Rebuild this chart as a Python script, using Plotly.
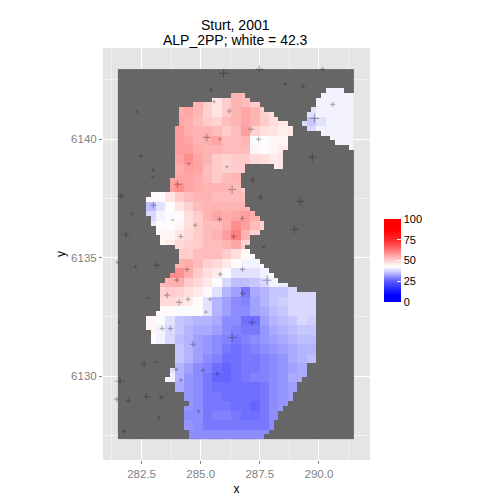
import numpy as np
import plotly.graph_objects as go

# ---- grid (coordinates of the tile raster) ----
x_start, y_top, cell = 281.5, 6142.95, 0.2
n_cols, n_rows = 50, 78

# ---- values, read per 2x2 tile block, from column block 3 to 24; top row first, row block 2 onward ----
_ = 0
val_rows = [
 [_,_,_,_,_,_,_,_,_,54,53,_,_,_,_,_,_,_,41,41,41,41],
 [_,_,_,_,_,54,51,47,51,54,53,51,_,_,_,_,_,41,41,41,41,41],
 [_,_,_,55,56,54,50,47,51,54,56,54,50,48,_,_,_,39,41,41,41,41],
 [_,_,_,56,55,53,51,50,53,54,56,54,51,48,46,_,38,36,39,41,41,41],
 [_,_,_,57,55,54,54,53,51,53,57,50,48,47,45,46,38,38,41,41,41,41],
 [_,_,_,57,56,54,55,56,53,53,54,42,42,44,44,_,_,_,_,41,41,41],
 [_,_,_,57,57,55,54,54,53,53,53,44,43,44,46,_,_,_,_,_,_,41],
 [_,_,_,56,59,56,54,51,50,51,51,49,48,46,47,_,_,_,_,_,_,_],
 [_,_,_,55,57,56,53,51,50,51,51,_,_,45,47,_,_,_,_,_,_,_],
 [_,_,56,56,56,55,53,51,53,54,_,_,_,_,_,_,_,_,_,_,_,_],
 [_,_,57,59,56,55,54,54,54,53,51,_,_,_,_,_,_,_,_,_,_,_],
 [43,43,47,51,53,54,54,53,53,53,53,_,_,_,_,_,_,_,_,_,_,_],
 [35,39,43,47,50,53,54,54,54,54,54,_,_,_,_,_,_,_,_,_,_,_],
 [38,41,42,43,48,51,54,56,55,56,57,55,_,_,_,_,_,_,_,_,_,_],
 [40,42,43,44,48,51,53,53,55,59,57,53,50,_,_,_,_,_,_,_,_,_],
 [_,44,44,47,49,51,53,54,57,61,54,50,_,_,_,_,_,_,_,_,_,_],
 [_,44,46,49,50,51,53,53,54,56,50,_,_,_,_,_,_,_,_,_,_,_],
 [_,_,_,51,51,53,53,53,51,48,43,42,_,_,_,_,_,_,_,_,_,_],
 [_,_,_,54,55,53,50,49,46,43,41,41,42,_,_,_,_,_,_,_,_,_],
 [_,_,59,59,55,51,48,46,42,39,39,39,41,42,_,_,_,_,_,_,_,_],
 [_,53,54,55,51,49,46,42,38,35,35,36,38,41,40,_,_,_,_,_,_,_],
 [_,50,51,50,48,46,43,39,34,32,28,33,34,36,36,38,38,38,_,_,_,_],
 [_,49,49,48,46,43,39,34,32,30,29,32,34,36,37,38,38,38,_,_,_,_],
 [_,43,43,42,42,42,39,34,32,30,30,32,33,35,36,38,38,38,_,_,_,_],
 [44,42,39,36,35,34,34,33,30,30,27,27,32,34,35,36,38,37,_,_,_,_],
 [44,41,38,36,34,33,33,32,30,29,28,28,31,33,34,35,36,36,_,_,_,_],
 [43,41,38,35,34,32,31,30,29,28,29,30,31,32,33,34,35,35,_,_,_,_],
 [_,_,_,36,34,32,31,30,28,27,28,29,30,31,32,33,34,34,_,_,_,_],
 [_,_,_,36,34,32,30,29,27,27,28,28,29,30,31,33,34,35,_,_,_,_],
 [_,_,39,34,32,30,29,27,26,27,28,28,29,30,31,32,33,_,_,_,_,_],
 [_,_,41,34,31,30,28,26,26,27,28,29,29,30,31,33,33,_,_,_,_,_],
 [_,_,_,33,31,30,28,27,27,27,27,27,28,30,31,32,_,_,_,_,_,_],
 [_,_,_,_,31,30,28,28,27,27,27,27,28,30,31,32,_,_,_,_,_,_],
 [_,_,_,_,31,30,28,28,28,27,27,26,28,30,31,_,_,_,_,_,_,_],
 [_,_,_,_,30,30,28,29,29,28,27,27,28,30,_,_,_,_,_,_,_,_],
 [_,_,_,_,31,30,28,28,28,28,28,28,28,30,_,_,_,_,_,_,_,_],
 [_,_,_,_,30,30,30,30,30,30,30,30,30,_,_,_,_,_,_,_,_,_],
]

# ---- extent of the main region, per tile row from row 5 down ----
body_from = [24,20,16,13,13,13,13,12,12,12,12,12,12,12,12,12,12,12,11,11,11,7,6,6,6,6,7,7,8,8,9,9,12,13,13,13,12,12,11,10,9,9,9,9,9,9,8,6,6,6,7,7,7,7,12,12,12,12,11,11,10,11,12,13,14,15,14,14,14,14,14,15,15]
body_to   = [27,28,30,31,33,34,36,37,37,36,36,36,35,35,35,27,27,26,26,26,27,27,27,27,28,29,30,31,31,30,28,28,27,28,29,30,31,32,33,34,36,38,42,42,42,42,42,42,42,42,42,42,42,42,42,42,42,41,40,40,39,39,38,37,37,36,35,35,34,33,33,32,31]

# ---- detached patches: row, from, to ----
patch_row  = [20,4,5,6,7,8,9,10,11,12,13,14,15,16]
patch_from = [33,44,43,42,42,41,40,40,39,40,43,45,46,49]
patch_to   = [35,48,50,50,50,50,50,50,50,50,50,50,50,50]

# ---- points ----
pt_x = [285.97,285.45,282.30,285.57,286.21,285.26,285.80,282.47,282.99,282.96,284.50,286.11,284.02,286.33,287.48,290.16,288.58,289.33,290.58,289.81,287.13,287.45,289.72,287.19,281.63,283.00,282.11,283.82,284.77,285.80,286.76,284.16,286.39,281.86,283.14,282.25,281.47,284.42,285.83,283.99,283.58,284.09,284.46,285.40,282.76,287.53,289.22,288.96,287.66,286.77,287.81,286.77,281.56,283.37,283.72,285.22,284.67,286.33,282.61,283.10,283.96,285.09,285.70,284.17,281.59,281.45,281.94,282.70,283.34,284.91,283.23,281.77,287.18]
pt_y = [6142.77,6142.07,6141.15,6141.57,6141.18,6140.07,6140.00,6139.27,6138.69,6138.40,6138.96,6138.83,6138.09,6137.87,6142.94,6142.94,6142.32,6142.22,6141.46,6140.87,6140.41,6139.99,6139.23,6138.26,6137.59,6137.20,6136.84,6136.58,6136.36,6136.61,6136.65,6135.89,6135.89,6135.98,6134.67,6134.61,6134.80,6134.50,6134.29,6134.05,6133.41,6133.11,6133.24,6133.24,6133.29,6137.54,6137.37,6136.19,6135.43,6134.50,6134.04,6133.49,6132.28,6132.01,6132.01,6132.70,6131.34,6131.63,6130.49,6130.59,6130.28,6130.24,6130.11,6129.82,6129.78,6129.02,6128.97,6129.14,6129.10,6128.52,6128.24,6127.67,6132.27]
pt_size = [9,4,3,3,5,7,3,4,4,3,3,3,7,8,8,5,4,4,5,9,6,5,9,5,6,6,3,2,4,5,5,5,5,6,7,3,3,5,4,5,6,6,5,4,2,5,8,8,3,5,9,6,3,5,5,3,6,9,6,2,4,4,5,4,9,5,5,6,5,3,3,5,7]

legend_ticks = [0, 25, 50, 75, 100]
title_lines = ["Sturt, 2001", "ALP_2PP; white = 42.3"]

# ---- build raster ----
coarse = np.array(val_rows, dtype=float)
z = np.full((n_rows, n_cols), np.nan)
for k, row in enumerate(coarse):
    for j, v in enumerate(row):
        r, c = (k + 2) * 2, (j + 3) * 2
        z[r:r + 2, c:c + 2] = v
mask = np.zeros((n_rows, n_cols), dtype=bool)
for i, (a, b) in enumerate(zip(body_from, body_to)):
    mask[5 + i, a:b] = True
for r, a, b in zip(patch_row, patch_from, patch_to):
    mask[r, a:b] = True
z[~mask] = np.nan
z[z == 0] = np.nan

xs = x_start + cell * (np.arange(n_cols) + 0.5)
ys = y_top - cell * (np.arange(n_rows) + 0.5)

fig = go.Figure()
fig.add_trace(go.Heatmap(x=xs, y=ys, z=np.zeros((n_rows, n_cols)), showscale=False,
                         colorscale=[[0, "#666666"], [1, "#666666"]], hoverinfo="skip"))
cb_x, cb_y, cb_w, cb_h = 384/500, (500-302)/500, 17, 83
fig.add_trace(go.Heatmap(
    x=xs, y=ys, z=z, zmin=0, zmax=100,
    colorscale=[[0, "#0000ff"], [0.08, "#0000ff"], [0.25, "#5a5aff"], [0.35, "#bebeff"], [0.423, "#ffffff"],
                [0.50, "#ffd2d2"], [0.62, "#ff7878"], [0.75, "#ff2828"], [0.87, "#ff0000"], [1, "#ff0000"]],
    colorbar=dict(x=cb_x, xanchor="left", y=cb_y, yanchor="bottom", len=cb_h/500, lenmode="fraction",
                  thickness=cb_w, thicknessmode="pixels", xpad=0, ypad=0, outlinewidth=0,
                  tickvals=legend_ticks, ticks="inside", ticklen=3.5, tickcolor="white", tickwidth=1,
                  tickfont=dict(family="Liberation Sans", size=11, color="black")),
))
fig.add_trace(go.Scatter(x=pt_x, y=pt_y, mode="markers", showlegend=False,
    marker=dict(symbol="cross-thin", size=[s * 0.72 for s in pt_size], color="rgba(0,0,0,0)",
                line=dict(color="rgba(30,30,30,0.5)", width=1.1))))

# left-hand legend ticks
shapes = []
for t in legend_ticks:
    yy = cb_y + (t / 100) * cb_h / 500
    shapes.append(dict(type="line", xref="paper", yref="paper", x0=cb_x, x1=cb_x + 3.5/500, y0=yy, y1=yy,
                       line=dict(color="white", width=1)))

axis_common = dict(showline=False, zeroline=False, showgrid=True, gridcolor="white", gridwidth=1.1,
                   ticks="outside", ticklen=3, tickwidth=1, tickcolor="#7f7f7f",
                   tickfont=dict(family="Liberation Sans", size=11.5, color="#7f7f7f"))
fig.update_layout(
    width=500, height=500, margin=dict(l=0, r=0, t=0, b=0), autosize=False,
    paper_bgcolor="white", plot_bgcolor="#e5e5e5", showlegend=False, shapes=shapes,
    xaxis=dict(domain=[103/500, 370/500], range=[280.87, 292.16], tick0=282.5, dtick=2.5, tickformat=".1f",
               minor=dict(dtick=1.25, tick0=282.5, showgrid=True, gridcolor="#f2f2f2", gridwidth=0.6, ticks=""),
               title=dict(text="x", font=dict(family="Liberation Sans", size=12, color="black"), standoff=5),
               **axis_common),
    yaxis=dict(domain=[40/500, 452/500], range=[6126.46, 6143.84], tick0=6130, dtick=5, tickformat="d",
               minor=dict(dtick=2.5, tick0=6130, showgrid=True, gridcolor="#f2f2f2", gridwidth=0.6, ticks=""),
               title=dict(text="y", font=dict(family="Liberation Sans", size=12, color="black"), standoff=2),
               **axis_common),
    annotations=[
        dict(text=title_lines[0], x=235.5/500, y=1-25/500, xref="paper", yref="paper", showarrow=False,
             xanchor="center", yanchor="middle", font=dict(family="Liberation Sans", size=14, color="black")),
        dict(text=title_lines[1], x=235.5/500, y=1-40/500, xref="paper", yref="paper", showarrow=False,
             xanchor="center", yanchor="middle", font=dict(family="Liberation Sans", size=14, color="black")),
    ],
)
fig.write_html("out.html", post_script="document.body.style.margin='0';", config={"displayModeBar": False})
